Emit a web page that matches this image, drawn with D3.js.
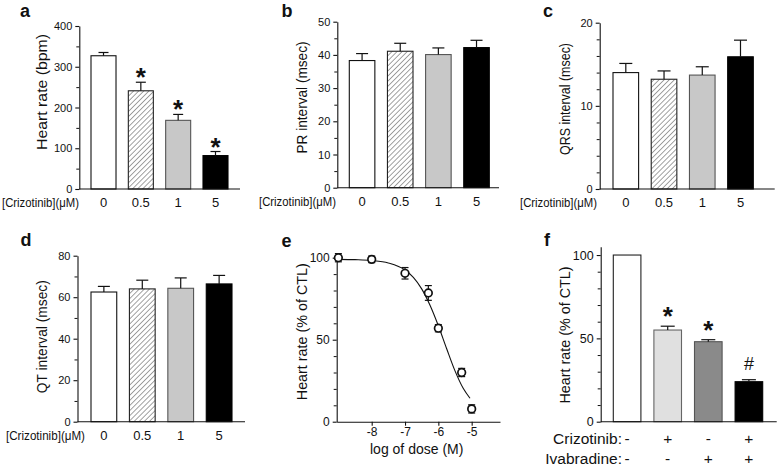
<!DOCTYPE html>
<html><head><meta charset="utf-8">
<script src="https://cdn.jsdelivr.net/npm/d3@7"></script>
<style>body{margin:0;background:#fff} svg{display:block} text{font-family:"Liberation Sans",Arial,sans-serif;fill:#111}</style>
</head><body><svg id="c" width="778" height="466"></svg>
<script>
// ---------- data ----------
const doseCats = ["0", "0.5", "1", "5"];
const heartRate = [327, 241, 168.5, 82];
const heartRateErr = [8, 21, 14.5, 10];
const heartRateMarks = ["", "*", "*", "*"];
const prInterval = [38.3, 41.1, 40.1, 42.2];
const prErr = [2.1, 2.4, 2.0, 2.2];
const qrsInterval = [14.0, 13.2, 13.7, 15.9];
const qrsErr = [1.1, 1.0, 1.0, 2.0];
const qtInterval = [62.5, 64.0, 64.3, 66.4];
const qtErr = [2.7, 4.2, 5.0, 4.1];
const logDose = [-9, -8, -7, -6.3, -6, -5.3, -5];
const doseResponse = [100, 99, 90.5, 78.5, 57, 30, 7.8];
const doseResponseErr = [2.5, 2, 3.5, 4.5, 2.2, 2.5, 2.5];
const fitLogDose = [-9, -8.5, -8, -7.5, -7, -6.75, -6.5, -6.25, -6, -5.75, -5.5, -5.25, -5.05];
const fitResponse = [99, 98.8, 98.3, 96.8, 92.5, 88, 81, 71, 58.5, 44.5, 31, 20.2, 14.3];
const comboCats = ["ctl", "criz", "ivab", "both"];
const crizotinibRow = ["-", "+", "-", "+"];
const ivabradineRow = ["-", "-", "+", "+"];
const comboHeartRate = [100, 55, 48, 24];
const comboErr = [0, 2.3, 1.2, 1.2];
const comboMarks = ["", "*", "*", "#"];

// ---------- drawing ----------
const svg = d3.select("#c");
const defs = svg.append("defs");
const pat = defs.append("pattern").attr("id", "hatch").attr("patternUnits", "userSpaceOnUse")
  .attr("width", 3.6).attr("height", 3.6).attr("patternTransform", "rotate(45)");
pat.append("rect").attr("width", 3.6).attr("height", 3.6).attr("fill", "#fff");
pat.append("line").attr("x1", 0).attr("y1", 0).attr("x2", 0).attr("y2", 3.6)
  .attr("stroke", "#555").attr("stroke-width", 1.1);

const FONT = '"Liberation Sans", Arial, sans-serif';

function yAxis(g, y, axisX, major, minor, fs) {
  const ax = g.append("g").attr("transform", `translate(${axisX},0)`)
    .call(d3.axisLeft(y).tickValues(major).tickSize(4).tickSizeOuter(0).tickPadding(3).tickFormat(d => String(d)));
  ax.selectAll("text").attr("font-size", fs).attr("font-family", FONT).attr("fill", "#111");
  ax.selectAll("line,path").attr("stroke", "#111").attr("stroke-width", 1.1);
  const mi = g.append("g").attr("transform", `translate(${axisX},0)`)
    .call(d3.axisLeft(y).tickValues(minor).tickSize(3).tickFormat(""));
  mi.select(".domain").remove();
  mi.selectAll("line").attr("stroke", "#111").attr("stroke-width", 1);
}

function panelLabel(t, x, yb) {
  svg.append("text").attr("x", x).attr("y", yb).attr("font-size", 18).attr("font-weight", "bold").text(t);
}
function yTitle(t, cx, cy, len) {
  svg.append("text").attr("transform", `translate(${cx},${cy}) rotate(-90)`).attr("text-anchor", "middle")
    .attr("dy", "0.35em").attr("font-size", 15)
    .attr("textLength", len).attr("lengthAdjust", "spacingAndGlyphs").text(t);
}

function barPanel(cfg) {
  const g = svg.append("g");
  const y = d3.scaleLinear().domain([0, cfg.yMax]).range([cfg.y0, cfg.yTop]);
  const x = d3.scaleBand().domain(cfg.cats).range([cfg.bandL, cfg.bandR]).paddingInner(cfg.pad).paddingOuter(0);
  const rows = cfg.cats.map((c, i) => ({ c, v: cfg.values[i], e: cfg.errs[i], fill: cfg.fills[i], stroke: cfg.strokes[i], m: cfg.marks ? cfg.marks[i] : "" }));
  g.selectAll("rect.bar").data(rows).join("rect").attr("class", "bar")
    .attr("x", d => x(d.c)).attr("width", x.bandwidth())
    .attr("y", d => y(d.v)).attr("height", d => y(0) - y(d.v))
    .attr("fill", d => d.fill).attr("stroke", d => d.stroke).attr("stroke-width", 1.1);
  const eb = rows.filter(d => d.e > 0);
  g.selectAll("line.ev").data(eb).join("line").attr("class", "ev")
    .attr("x1", d => x(d.c) + x.bandwidth() / 2).attr("x2", d => x(d.c) + x.bandwidth() / 2)
    .attr("y1", d => y(d.v)).attr("y2", d => y(d.v + d.e)).attr("stroke", "#111").attr("stroke-width", 1.2);
  g.selectAll("line.ec").data(eb).join("line").attr("class", "ec")
    .attr("x1", d => x(d.c) + x.bandwidth() / 2 - cfg.cap).attr("x2", d => x(d.c) + x.bandwidth() / 2 + cfg.cap)
    .attr("y1", d => y(d.v + d.e)).attr("y2", d => y(d.v + d.e)).attr("stroke", "#111").attr("stroke-width", 1.2);
  g.selectAll("text.mk").data(rows.filter(d => d.m)).join("text").attr("class", "mk")
    .attr("x", d => x(d.c) + x.bandwidth() / 2)
    .attr("y", d => y(d.v + d.e) - (d.m === "#" ? cfg.hashOff : cfg.starOff))
    .attr("text-anchor", "middle")
    .attr("font-size", d => d.m === "#" ? 18 : 26)
    .attr("font-weight", d => d.m === "#" ? "normal" : "bold")
    .text(d => d.m);
  yAxis(g, y, cfg.axisX, cfg.major, cfg.minor, cfg.tickFs);
  g.append("line").attr("x1", cfg.axisX).attr("x2", cfg.axisEnd).attr("y1", y(0)).attr("y2", y(0))
    .attr("stroke", "#111").attr("stroke-width", 1.1);
  if (cfg.xRows) {
    cfg.xRows.forEach(r => {
      g.append("text").attr("x", r.labelX).attr("y", r.yb).attr("text-anchor", "end").attr("font-size", cfg.xFs).text(r.title);
      g.selectAll(null).data(r.vals).join("text")
        .attr("x", (d, i) => x(cfg.cats[i]) + x.bandwidth() / 2).attr("y", r.yb)
        .attr("text-anchor", "middle").attr("font-size", cfg.xFs).text(d => d);
    });
  } else {
    g.append("text").attr("x", cfg.xTitleX).attr("y", cfg.xLabY).attr("font-size", 12)
      .attr("textLength", cfg.xTitleLen).attr("lengthAdjust", "spacingAndGlyphs").text("[Crizotinib](μM)");
    g.selectAll(null).data(cfg.cats).join("text")
      .attr("x", d => x(d) + x.bandwidth() / 2).attr("y", cfg.xLabY)
      .attr("text-anchor", "middle").attr("font-size", cfg.xFs).text(d => d);
  }
}

const fillsA = ["#fff", "url(#hatch)", "#c8c8c8", "#000"];
const strokesA = ["#111", "#222", "#555", "#000"];

// a
barPanel({ cats: doseCats, values: heartRate, errs: heartRateErr, marks: heartRateMarks,
  fills: fillsA, strokes: strokesA, yMax: 400, y0: 189, yTop: 26, bandL: 91, bandR: 228, pad: 0.33,
  axisX: 79.3, axisEnd: 240, major: [0, 100, 200, 300, 400], minor: [50, 150, 250, 350], tickFs: 11,
  cap: 5, starOff: -4, hashOff: 8, xFs: 13, xTitleX: 2, xTitleLen: 77, xLabY: 207 });
panelLabel("a", 20, 16.5);
yTitle("Heart rate (bpm)", 41.7, 92, 116);

// b
barPanel({ cats: doseCats, values: prInterval, errs: prErr,
  fills: fillsA, strokes: strokesA, yMax: 50, y0: 187.7, yTop: 21.7, bandL: 349.3, bandR: 489.3, pad: 0.33,
  axisX: 337.3, axisEnd: 499, major: [0, 10, 20, 30, 40, 50], minor: [5, 15, 25, 35, 45], tickFs: 11,
  cap: 6, xFs: 13, xTitleX: 259, xTitleLen: 77, xLabY: 206 });
panelLabel("b", 281.5, 16.5);
yTitle("PR interval (msec)", 301.7, 97.5, 112);

// c
barPanel({ cats: doseCats, values: qrsInterval, errs: qrsErr,
  fills: fillsA, strokes: strokesA, yMax: 20, y0: 189, yTop: 22.7, bandL: 613, bandR: 753.3, pad: 0.33,
  axisX: 599.7, axisEnd: 774.7, major: [0, 10, 20], minor: [2, 4, 6, 8, 12, 14, 16, 18], tickFs: 11,
  cap: 6.5, xFs: 13, xTitleX: 520, xTitleLen: 77, xLabY: 206.5 });
panelLabel("c", 543, 16.5);
yTitle("QRS interval (msec)", 564.7, 99, 112);

// d
barPanel({ cats: doseCats, values: qtInterval, errs: qtErr,
  fills: fillsA, strokes: strokesA, yMax: 80, y0: 421.7, yTop: 255.7, bandL: 91, bandR: 232, pad: 0.33,
  axisX: 77.5, axisEnd: 245, major: [0, 20, 40, 60, 80], minor: [10, 30, 50, 70], tickFs: 11,
  cap: 6, xFs: 13, xTitleX: 6, xTitleLen: 79, xLabY: 439.5 });
panelLabel("d", 20.5, 246);
yTitle("QT interval (msec)", 41.7, 336.7, 113);

// f
barPanel({ cats: comboCats, values: comboHeartRate, errs: comboErr, marks: comboMarks,
  fills: ["#fff", "#e0e0e0", "#8a8a8a", "#000"], strokes: ["#222", "#666", "#555", "#000"],
  yMax: 105, y0: 421.7, yTop: 246.7, bandL: 613.3, bandR: 762.7, pad: 0.32,
  axisX: 600.7, axisEnd: 776.7, major: [0, 50, 100], minor: [10, 20, 30, 40, 60, 70, 80, 90], tickFs: 12.5,
  cap: 7, starOff: 1, hashOff: 10, xFs: 15.5,
  xRows: [{ title: "Crizotinib:", labelX: 622, yb: 444, vals: crizotinibRow },
          { title: "Ivabradine:", labelX: 622, yb: 463.5, vals: ivabradineRow }] });
panelLabel("f", 544, 246);
yTitle("Heart rate (% of CTL)", 564.7, 335, 137);

// e : dose response
(function () {
  const g = svg.append("g");
  const x = d3.scaleLinear().domain([-9.05, -4.15]).range([336.7, 500]);
  const y = d3.scaleLinear().domain([0, 100]).range([421.7, 257.7]);
  yAxis(g, y, 336.7, [0, 50, 100], [10, 20, 30, 40, 60, 70, 80, 90], 12);
  const xa = g.append("g").attr("transform", `translate(0,${y(0)})`)
    .call(d3.axisBottom(x).tickValues([-8, -7, -6, -5]).tickSize(4).tickSizeOuter(0).tickPadding(2).tickFormat(d => String(d)));
  xa.selectAll("text").attr("font-size", 12).attr("font-family", FONT).attr("fill", "#111");
  xa.selectAll("line,path").attr("stroke", "#111").attr("stroke-width", 1.1);
  const fit = fitLogDose.map((d, i) => [d, fitResponse[i]]);
  g.append("path").datum(fit).attr("fill", "none").attr("stroke", "#111").attr("stroke-width", 1.1)
    .attr("d", d3.line().x(d => x(d[0])).y(d => y(d[1])).curve(d3.curveMonotoneX));
  const pts = logDose.map((d, i) => ({ x: d, y: doseResponse[i], e: doseResponseErr[i] }));
  g.selectAll("line.ev").data(pts).join("line").attr("class", "ev")
    .attr("x1", d => x(d.x)).attr("x2", d => x(d.x)).attr("y1", d => y(d.y - d.e)).attr("y2", d => y(d.y + d.e))
    .attr("stroke", "#111").attr("stroke-width", 1.2);
  [-1, 1].forEach(s => {
    g.selectAll(null).data(pts).join("line")
      .attr("x1", d => x(d.x) - 3.5).attr("x2", d => x(d.x) + 3.5)
      .attr("y1", d => y(d.y + s * d.e)).attr("y2", d => y(d.y + s * d.e))
      .attr("stroke", "#111").attr("stroke-width", 1.2);
  });
  g.selectAll("circle").data(pts).join("circle")
    .attr("cx", d => x(d.x)).attr("cy", d => y(d.y)).attr("r", 3.8)
    .attr("fill", "#fff").attr("stroke", "#111").attr("stroke-width", 1.7);
  g.append("text").attr("x", 416.7).attr("y", 453.5).attr("text-anchor", "middle").attr("font-size", 14).text("log of dose (M)");
})();
panelLabel("e", 281.5, 246.5);
yTitle("Heart rate (% of CTL)", 301.7, 331.7, 137);
</script></body></html>
